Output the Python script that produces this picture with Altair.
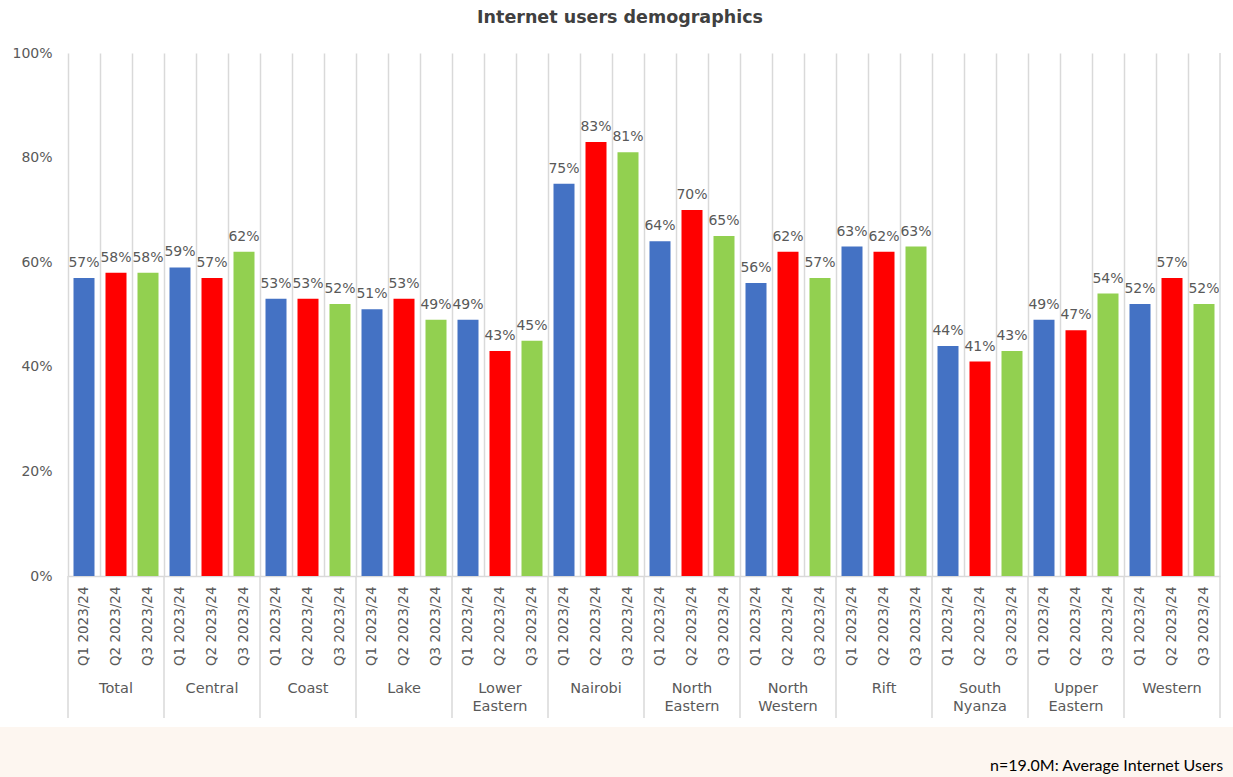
import altair as alt
import pandas as pd

regions = ["Total", "Central", "Coast", "Lake", "Lower Eastern", "Nairobi",
           "North Eastern", "North Western", "Rift", "South Nyanza",
           "Upper Eastern", "Western"]
region_lines = ["Total", "Central", "Coast", "Lake", "Lower\nEastern", "Nairobi",
                "North\nEastern", "North\nWestern", "Rift", "South\nNyanza",
                "Upper\nEastern", "Western"]
quarters = ["Q1 2023/24", "Q2 2023/24", "Q3 2023/24"]
q1 = [57, 59, 53, 51, 49, 75, 64, 56, 63, 44, 49, 52]
q2 = [58, 57, 53, 53, 43, 83, 70, 62, 62, 41, 47, 57]
q3 = [58, 62, 52, 49, 45, 81, 65, 57, 63, 43, 54, 52]
colors = ["#4472C4", "#FF0000", "#92D050"]

W, H = 1152, 523

rows = []
for i, r in enumerate(regions):
    for q, vals in zip(quarters, [q1, q2, q3]):
        rows.append({"region": r, "quarter": q, "key": r + "|" + q,
                     "val": vals[i] / 100, "label": f"{vals[i]}%"})
df = pd.DataFrame(rows)
keys = list(df["key"])

reg_df = pd.DataFrame({"key": [r + "|" + quarters[1] for r in regions],
                       "text": region_lines})
sep_df = pd.DataFrame({"key": [r + "|" + quarters[0] for r in regions]})

FONT = "DejaVu Sans"
GRAY = "#595959"
GRID = "#D9D9D9"

xscale = alt.Scale(domain=keys, paddingInner=0, paddingOuter=0)

bars = alt.Chart(df).mark_bar(size=21).encode(
    x=alt.X("key:N", scale=xscale, title=None,
            axis=alt.Axis(labelExpr="split(datum.label, '|')[1]",
                          labelAngle=270, labelFont=FONT, labelFontSize=13.5,
                          labelColor=GRAY, labelPadding=10, ticks=False,
                          grid=True, gridColor=GRID, gridWidth=1.5,
                          bandPosition=0, domainColor=GRID, domainWidth=1.5)),
    y=alt.Y("val:Q", scale=alt.Scale(domain=[0, 1]), title=None,
            axis=alt.Axis(values=[0, 0.2, 0.4, 0.6, 0.8, 1.0], format=".0%",
                          grid=False, domain=False, ticks=False,
                          labelFont=FONT, labelFontSize=14, labelColor=GRAY,
                          labelPadding=16)),
    color=alt.Color("quarter:N", scale=alt.Scale(domain=quarters, range=colors),
                    legend=None),
)

labels = alt.Chart(df).mark_text(dy=-15, font=FONT, fontSize=14, color=GRAY).encode(
    x=alt.X("key:N", scale=xscale),
    y=alt.Y("val:Q", scale=alt.Scale(domain=[0, 1])),
    text="label:N",
)

reg_labels = alt.Chart(reg_df).mark_text(
    font=FONT, fontSize=14.5, color=GRAY, lineBreak="\n", lineHeight=18,
    baseline="top", y=H + 106,
).encode(
    x=alt.X("key:N", scale=xscale),
    text="text:N",
)

seps = alt.Chart(sep_df).mark_rule(color=GRID, strokeWidth=1.5).encode(
    x=alt.X("key:N", scale=xscale, bandPosition=0),
    y=alt.value(H), y2=alt.value(H + 142),
)

right_edge = alt.Chart(sep_df.head(1)).mark_rule(color=GRID, strokeWidth=1.5).encode(
    x=alt.value(W), y=alt.value(0), y2=alt.value(H + 142),
)

footer_bg = alt.Chart(sep_df.head(1)).mark_rect(color="#FDF6F0").encode(
    x=alt.value(-68), x2=alt.value(W + 13),
    y=alt.value(H + 151), y2=alt.value(H + 201),
)

footer_txt = alt.Chart(pd.DataFrame({"t": ["n=19.0M: Average Internet Users"]})).mark_text(
    font="Lato", fontSize=16, color="#000000", align="left", baseline="alphabetic",
).encode(
    x=alt.value(922), y=alt.value(H + 195), text="t:N",
)

chart = alt.layer(bars, labels, seps, right_edge, reg_labels, footer_bg, footer_txt).properties(
    width=W, height=H,
    title=alt.TitleParams("Internet users demographics", font=FONT, fontSize=17.5,
                          fontWeight="bold", color="#404040", anchor="middle",
                          dx=-24, offset=20),
    autosize=alt.AutoSizeParams(type="none"),
    padding={"left": 68, "top": 53, "right": 13, "bottom": 201},
).configure(background="white").configure_view(stroke=None)

chart.save("out.html", embed_options={"renderer": "svg", "actions": False})
